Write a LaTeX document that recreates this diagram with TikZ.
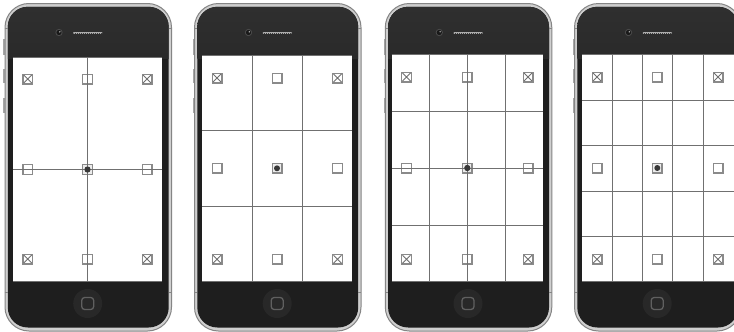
\documentclass[tikz,border=0pt]{standalone}
\definecolor{bezel}{HTML}{1E1E1E}
\definecolor{bezeltop}{HTML}{2F2F2F}
\definecolor{bezelmid}{HTML}{2A2A2A}
\definecolor{rimc}{HTML}{858585}
\definecolor{framec}{HTML}{CFCFCF}
\definecolor{linec}{HTML}{707070}
\definecolor{iconc}{HTML}{8A8A8A}
\definecolor{homec}{HTML}{282828}
\tikzset{x=1pt,y=-1pt,
 grid line/.style={draw=linec,line width=1pt},
 icon/.style={draw=iconc,fill=white,line width=1.4pt},
 sidebtn/.style={fill=framec!80!black},
}
\newcommand{\phonebody}[1]{%
 \begin{scope}[shift={(#1,0)}]
  \fill[sidebtn] (-1.8,39) rectangle (1,55);
  \fill[sidebtn] (-1.8,69) rectangle (1,83);
  \fill[sidebtn] (-1.8,98) rectangle (1,113);
  \draw[draw=rimc,fill=framec,line width=1pt,rounded corners=24pt] (0,3.5) rectangle (166.5,331);
  \fill[bezel,rounded corners=20pt] (2.8,6.8) rectangle (163.7,327.5);
  \begin{scope}
   \clip[rounded corners=20pt] (2.8,6.8) rectangle (163.7,327.5);
   \shade[top color=bezeltop,bottom color=bezelmid] (0,6) rectangle (167,58);
  \end{scope}
  \draw[rimc,line width=0.6pt] (-0.3,28) -- (2.8,28) (-0.3,292) -- (2.8,292) (163.7,28) -- (166.8,28) (163.7,292) -- (166.8,292);
  \fill[gray!60!black] (54,32.5) circle (3.6pt);
  \fill[black!90] (54,32.5) circle (2.6pt);
  \fill[gray!60] (54.8,31.8) circle (0.8pt);
  \draw[gray!65,line width=2pt,line cap=round] (69,33) -- (96.5,33);
  \draw[bezelmid!80!gray,line width=0.8pt,dash pattern=on 1.2pt off 0.8pt] (69.5,33) -- (96,33);
  \fill[homec] (82.7,303.5) circle (14.5pt);
  \draw[gray!75!black,line width=1.3pt,rounded corners=3pt] (76.7,297.5) rectangle (88.7,309.5);
 \end{scope}
}
\newcommand{\xicon}[2]{%
 \draw[icon] (#1-4.8,#2-4.8) rectangle (#1+4.8,#2+4.8);
 \draw[linec,line width=0.8pt] (#1-4,#2-4) -- (#1+4,#2+4) (#1-4,#2+4) -- (#1+4,#2-4);
}
\newcommand{\oicon}[2]{\draw[icon] (#1-4.8,#2-4.8) rectangle (#1+4.8,#2+4.8);}
\newcommand{\cicon}[2]{%
 \draw[icon,fill=gray!15] (#1-4.8,#2-4.8) rectangle (#1+4.8,#2+4.8);
 \fill[black!78] (#1,#2) circle (3pt);
}
\begin{document}
\begin{tikzpicture}
\useasboundingbox (0,0) rectangle (734,332);
\fill[white] (0,0) rectangle (734,332);

% Phone 1
\phonebody{5}
\fill[white] (13.3,57.3) rectangle (161.7,281.7);
\draw[grid line] (13.3,281.7) -- (161.7,281.7) (13.3,57.3) -- (161.7,57.3);
\xicon{27.7}{79}\oicon{87.5}{79}\xicon{147}{79}
\oicon{27.7}{169.5}\cicon{87.5}{169.5}\oicon{147}{169.5}
\xicon{27.7}{259}\oicon{87.5}{259}\xicon{147}{259}
\draw[grid line] (87.5,57.3) -- (87.5,281.7) (13.3,169.5) -- (161.7,169.5);
\fill[black!78] (87.5,169.5) circle (3pt);

% Phone 2
\phonebody{194.5}
\fill[white] (202.3,55.5) rectangle (352.3,281.7);
\draw[grid line] (202.3,281.7) -- (352.3,281.7) (202.3,55.5) -- (352.3,55.5);
\draw[grid line] (252.3,55.5) -- (252.3,281.7) (302.3,55.5) -- (302.3,281.7)
 (202.3,130.7) -- (352.3,130.7) (202.3,206.3) -- (352.3,206.3);
\xicon{217}{78}\oicon{277}{78}\xicon{337.5}{78}
\oicon{217}{168.3}\cicon{277}{168.3}\oicon{337.5}{168.3}
\xicon{217}{259.3}\oicon{277}{259.3}\xicon{337.5}{259.3}

% Phone 3
\phonebody{385.3}
\fill[white] (391.7,54.3) rectangle (543.3,281.7);
\draw[grid line] (391.7,281.7) -- (543.3,281.7) (391.7,54.3) -- (543.3,54.3);
\xicon{406.5}{77}\oicon{467.3}{77}\xicon{528}{77}
\oicon{406.5}{168}\cicon{467.3}{168}\oicon{528}{168}
\xicon{406.5}{259.3}\oicon{467.3}{259.3}\xicon{528}{259.3}
\draw[grid line] (429.3,54.3) -- (429.3,281.7) (467.3,54.3) -- (467.3,281.7) (505.3,54.3) -- (505.3,281.7)
 (391.7,111) -- (543.3,111) (391.7,168) -- (543.3,168) (391.7,225) -- (543.3,225);
\fill[black!78] (467.3,168) circle (3pt);

% Phone 4
\phonebody{574.5}
\fill[white] (582.3,54.7) rectangle (734,281.7);
\draw[grid line] (582.3,281.7) -- (734,281.7) (582.3,54.7) -- (734,54.7);
\draw[grid line] (612,54.7) -- (612,281.7) (642.3,54.7) -- (642.3,281.7) (672.7,54.7) -- (672.7,281.7) (703,54.7) -- (703,281.7)
 (582.3,100) -- (734,100) (582.3,145.3) -- (734,145.3) (582.3,191) -- (734,191) (582.3,236.7) -- (734,236.7);
\xicon{597}{77}\oicon{657.3}{77}\xicon{718}{77}
\oicon{597}{168}\cicon{657.3}{168}\oicon{718}{168}
\xicon{597}{259.3}\oicon{657.3}{259.3}\xicon{718}{259.3}
\end{tikzpicture}
\end{document}
